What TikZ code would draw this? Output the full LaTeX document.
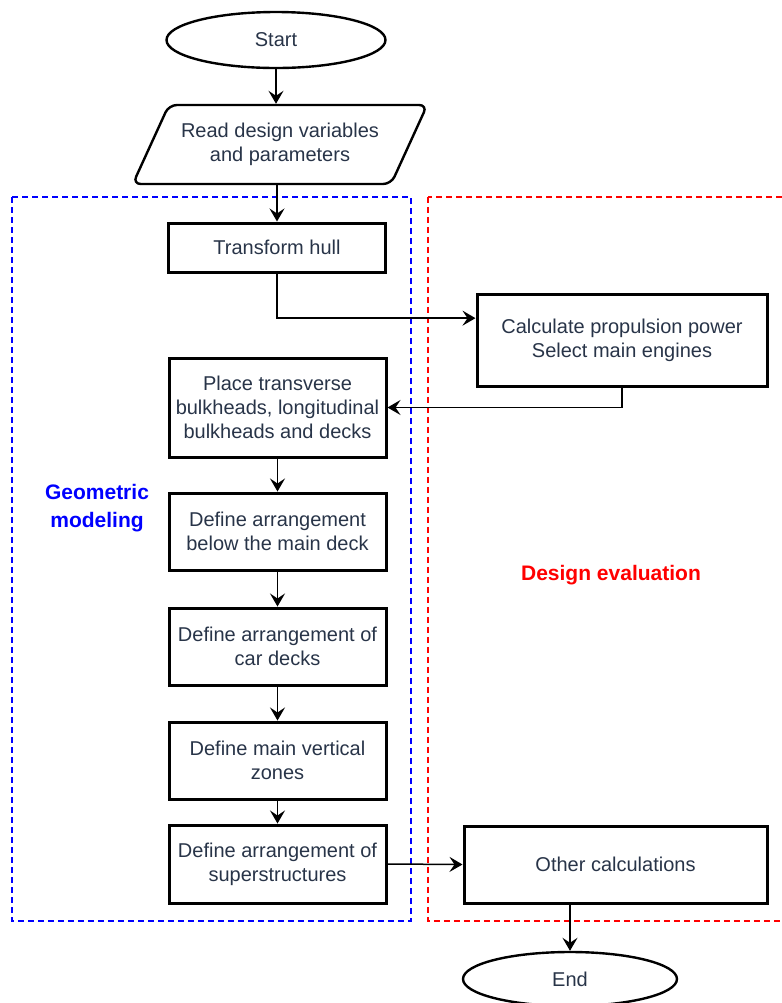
\documentclass[tikz,border=0pt]{standalone}
\usepackage{fontspec}
\setmainfont{Liberation Sans}
\usetikzlibrary{arrows.meta,shapes.geometric,calc}
\definecolor{txt}{RGB}{40,52,72}

\begin{document}
\begin{tikzpicture}[x=0.5pt,y=-0.5pt,
  box/.style={draw,line width=1.5pt,align=center,text=txt,font=\fontsize{10}{12}\selectfont,inner sep=0pt,minimum width=108.5pt},
  term/.style={draw,ellipse,line width=1.2pt,text=txt,font=\fontsize{10}{12}\selectfont,inner sep=0pt,minimum width=109.5pt,minimum height=28pt},
  io/.style={draw,trapezium,trapezium left angle=53,trapezium right angle=127,trapezium stretches=true,rounded corners=4pt,line width=1.2pt,align=center,text=txt,font=\fontsize{10}{12}\selectfont,inner sep=0pt,minimum width=147.5pt,minimum height=39.5pt},
  flow/.style={line width=0.75pt,-{Stealth[length=6.5pt,width=7.5pt,inset=2.5pt]}},
  grp/.style={line width=0.75pt,dash pattern=on 3pt off 2pt},
  lbl/.style={font=\fontsize{10.5}{14}\selectfont\bfseries,align=center}]
\useasboundingbox (0,0) rectangle (782,1003);
% groups
\draw[grp,blue] (12,197) rectangle (411,921);
\draw[grp,red] (428,197) rectangle (786,921);
\node[lbl,text=blue] (geo) at (97,508) {Geometric\\modeling};
\node[lbl,text=red] (eval) at (611,575) {Design evaluation};
% flow chart
\node[term] (start) at (276,40) {Start};
\node[io] (read) at (280,144.5) {Read design variables\\and parameters};
\node[box,minimum height=24.5pt] (hull) at (277,247.5) {Transform hull};
\node[box,minimum width=145pt,minimum height=46pt] (calc) at (622,340) {Calculate propulsion power\\Select main engines};
\node[box,minimum height=49.5pt] (place) at (277.5,407.5) {Place transverse\\bulkheads, longitudinal\\bulkheads and decks};
\node[box,minimum height=38.5pt] (below) at (277.5,531.5) {Define arrangement\\below the main deck};
\node[box,minimum height=38.5pt] (car) at (277.5,646.5) {Define arrangement of\\car decks};
\node[box,minimum height=38.5pt] (zones) at (277.5,760.5) {Define main vertical\\zones};
\node[box,minimum height=39pt] (super) at (277.5,864) {Define arrangement of\\superstructures};
\node[box,minimum width=151.5pt,minimum height=38.5pt] (other) at (615.5,864.5) {Other calculations};
\node[term,minimum width=107pt,minimum height=27pt] (end) at (570,979) {End};
% connectors
\draw[flow] (start.south) -- (start.south |- read.north);
\draw[flow] (hull.north |- read.south) -- (hull.north);
\draw[flow] (hull.south) |- ($(calc.north west)!0.27!(calc.south west)$);
\draw[flow] (calc.south) |- (place.east);
\draw[flow] (place) -- (below);
\draw[flow] (below) -- (car);
\draw[flow] (car) -- (zones);
\draw[flow] (zones) -- (super);
\draw[flow] (super.east) -- (other.west);
\draw[flow] (end.north |- other.south) -- (end.north);
\end{tikzpicture}
\end{document}
